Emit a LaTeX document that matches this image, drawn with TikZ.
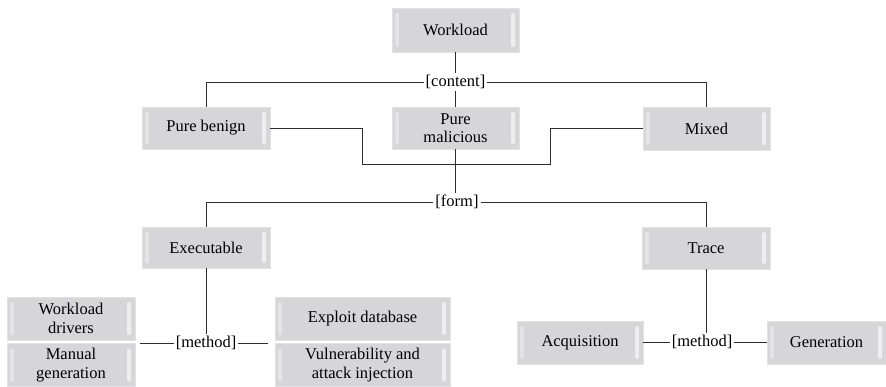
\documentclass[tikz,border=0pt]{standalone}
\usepackage{fontspec}
\setmainfont{Liberation Serif}
\definecolor{boxfill}{RGB}{214,214,216}
\definecolor{boxedge}{RGB}{226,226,228}
\definecolor{linec}{RGB}{45,45,45}
\begin{document}
\begin{tikzpicture}[x=1pt,y=-1pt,
  box/.style={rectangle, fill=boxfill, draw=boxedge, line width=0.8pt,
    align=center, inner sep=0pt, font=\rmfamily\fontsize{16.5}{18.5}\selectfont,
    path picture={
      \fill[white,opacity=0.35,rounded corners=1.5pt]
        ([xshift=3pt,yshift=-5pt]path picture bounding box.north west)
        rectangle ([xshift=7pt,yshift=5pt]path picture bounding box.south west);
      \fill[white,opacity=0.6,rounded corners=2pt]
        ([xshift=-8pt,yshift=-5pt]path picture bounding box.north east)
        rectangle ([xshift=-4pt,yshift=5pt]path picture bounding box.south east);
    }},
  lbl/.style={inner sep=2pt, font=\rmfamily\fontsize{16.5}{18.5}\selectfont},
  conn/.style={draw=linec, line width=0.9pt}]
\useasboundingbox (0,0) rectangle (886,386);

\node[box, minimum width=127pt, minimum height=44pt] (work) at (455.5,30) {Workload};
\node[box, minimum width=128pt, minimum height=42pt] (benign) at (206,128) {Pure benign};
\node[box, minimum width=127pt, minimum height=42pt] (mal) at (455.5,128) {Pure\\malicious};
\node[box, minimum width=127pt, minimum height=43pt] (mixed) at (706.5,128.5) {Mixed};
\node[box, minimum width=128pt, minimum height=41pt] (exec) at (206,247.5) {Executable};
\node[box, minimum width=128pt, minimum height=42pt] (trace) at (706,248) {Trace};
\node[box, minimum width=128pt, minimum height=43pt] (drv) at (71,318.5) {Workload\\drivers};
\node[box, minimum width=128pt, minimum height=43pt] (man) at (71,365) {Manual\\generation};
\node[box, minimum width=175pt, minimum height=43pt] (expl) at (362.5,318.5) {Exploit database};
\node[box, minimum width=175pt, minimum height=43pt] (vuln) at (362.5,365) {Vulnerability and\\attack injection};
\node[box, minimum width=126pt, minimum height=43pt] (acq) at (580,342.5) {Acquisition};
\node[box, minimum width=119pt, minimum height=43pt] (gen) at (826.5,342.5) {Generation};

\node[lbl] (content) at (455.5,82) {[content]};
\node[lbl] (form) at (457,202) {[form]};
\node[lbl] (m1) at (206,343) {[method]};
\node[lbl] (m2) at (702,342) {[method]};

\coordinate (bl) at (362,128);
\coordinate (jl) at (362,164);
\coordinate (jr) at (550,164);
\coordinate (br) at (550,128.5);
\coordinate (m1l) at (140,343);
\coordinate (m1r) at (268,343);
\coordinate (acqr) at (643,342);
\coordinate (genl) at (767,342);

\draw[conn] (work.south) -- (content.north);
\draw[conn] (content.west) -| (benign.north);
\draw[conn] (content.east) -| (mixed.north);
\draw[conn] (content.south) -- (mal.north);
\draw[conn] (benign.east) -- (bl) -- (jl) -- (jr) -- (br) -- (mixed.west);
\draw[conn] (mal.south) -- (mal.south |- form.north);
\draw[conn] (form.west) -| (exec.north);
\draw[conn] (form.east) -| (trace.north);
\draw[conn] (exec.south) -- (m1.north);
\draw[conn] (m1.west) -- (m1l);
\draw[conn] (m1.east) -- (m1r);
\draw[conn] (trace.south) -- (trace.south |- m2.north);
\draw[conn] (m2.west) -- (acqr);
\draw[conn] (m2.east) -- (genl);
\end{tikzpicture}
\end{document}
